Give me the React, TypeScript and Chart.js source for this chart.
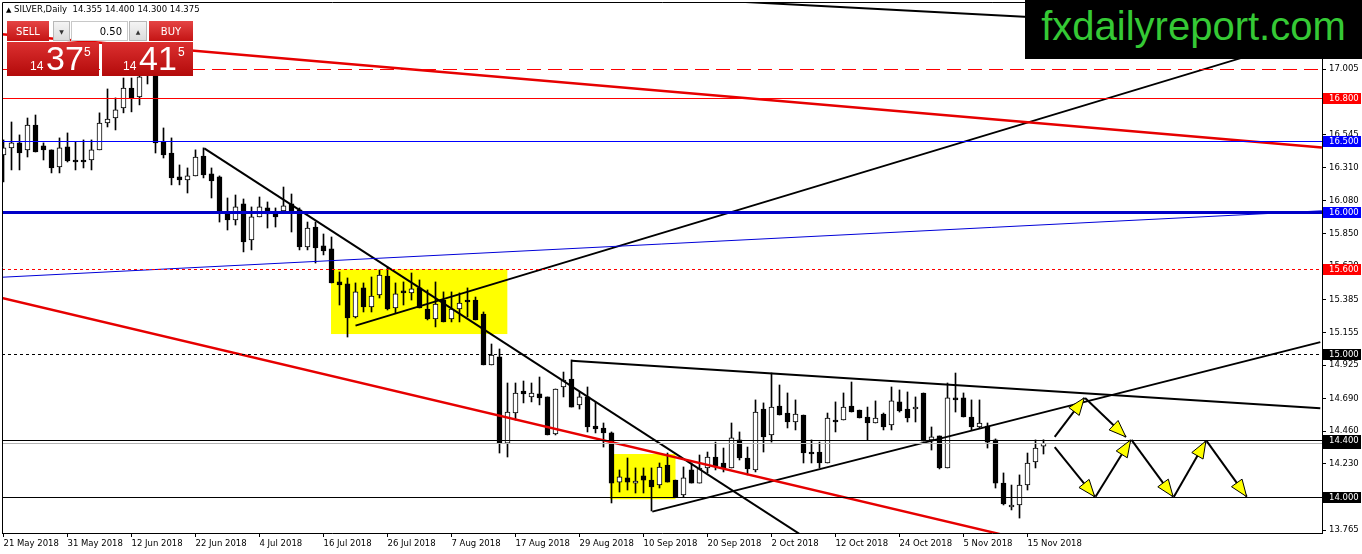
import React, { useEffect, useRef } from "react";
import { Chart, registerables } from "chart.js";
Chart.register(...registerables);

const FONT = '"DejaVu Sans", Tahoma, sans-serif';

// ---- axes ----
const dateLabels = ["21 May 2018", "31 May 2018", "12 Jun 2018", "22 Jun 2018", "4 Jul 2018", "16 Jul 2018", "26 Jul 2018", "7 Aug 2018", "17 Aug 2018", "29 Aug 2018", "10 Sep 2018", "20 Sep 2018", "2 Oct 2018", "12 Oct 2018", "24 Oct 2018", "5 Nov 2018", "15 Nov 2018"];
const dateLabelBars = [0, 8, 16, 24, 32, 40, 48, 56, 64, 72, 80, 88, 96, 104, 112, 120, 128];
const priceTicks = [13.765, 14.0, 14.23, 14.46, 14.69, 14.925, 15.155, 15.385, 15.62, 15.85, 16.08, 16.31, 16.545, 16.775, 17.005];
const barRange = [-0.1875, 164.8125];
const priceRange = [13.745, 17.476];

// ---- daily candles SILVER ----
const opens = [16.401, 16.451, 16.486, 16.437, 16.612, 16.465, 16.437, 16.317, 16.458, 16.366, 16.359, 16.366, 16.437, 16.626, 16.661, 16.732, 16.872, 16.809, 16.964, 16.985,
  16.493, 16.415, 16.247, 16.226, 16.254, 16.394, 16.268, 16.247, 16.001, 15.945, 16.057, 15.804, 15.966, 16.029, 15.994, 16.008, 16.057, 16.015, 15.755, 15.895,
  15.762, 15.741, 15.509, 15.495, 15.263, 15.467, 15.333, 15.418, 15.551, 15.326, 15.446, 15.432, 15.467, 15.319, 15.249, 15.382, 15.249, 15.319, 15.375, 15.382,
  15.284, 14.926, 14.982, 14.377, 14.588, 14.743, 14.701, 14.722, 14.701, 14.441, 14.771, 14.827, 14.645, 14.701, 14.497, 14.483, 14.448, 14.103, 14.132, 14.096,
  14.146, 14.117, 14.082, 14.223, 14.117, 14.012, 14.188, 14.096, 14.202, 14.279, 14.237, 14.202, 14.399, 14.272, 14.188, 14.616, 14.434, 14.637, 14.588, 14.525,
  14.574, 14.314, 14.314, 14.237, 14.539, 14.539, 14.637, 14.609, 14.560, 14.518, 14.581, 14.504, 14.666, 14.616, 14.616, 14.729, 14.399, 14.427, 14.202, 14.694,
  14.694, 14.560, 14.490, 14.497, 14.399, 14.096, 13.928, 13.942, 14.082, 14.244, 14.355];
const highs = [16.507, 16.633, 16.542, 16.661, 16.682, 16.486, 16.437, 16.521, 16.556, 16.493, 16.507, 16.507, 16.697, 16.865, 16.802, 16.942, 16.942, 16.985, 17.069, 17.013,
  16.591, 16.521, 16.331, 16.310, 16.437, 16.451, 16.310, 16.254, 16.099, 16.120, 16.092, 16.036, 16.106, 16.071, 16.029, 16.176, 16.127, 16.029, 15.930, 15.930,
  15.846, 15.825, 15.579, 15.537, 15.502, 15.502, 15.544, 15.593, 15.614, 15.502, 15.509, 15.572, 15.523, 15.453, 15.509, 15.439, 15.439, 15.432, 15.467, 15.403,
  15.298, 15.073, 15.038, 14.799, 14.799, 14.813, 14.799, 14.841, 14.701, 14.757, 14.876, 14.961, 14.736, 14.771, 14.666, 14.518, 14.455, 14.188, 14.272, 14.202,
  14.202, 14.202, 14.237, 14.307, 14.117, 14.209, 14.237, 14.293, 14.314, 14.384, 14.342, 14.518, 14.455, 14.349, 14.680, 14.659, 14.869, 14.785, 14.729, 14.680,
  14.574, 14.399, 14.384, 14.588, 14.666, 14.729, 14.806, 14.609, 14.630, 14.673, 14.588, 14.771, 14.750, 14.736, 14.701, 14.729, 14.490, 14.427, 14.799, 14.869,
  14.729, 14.680, 14.680, 14.518, 14.406, 14.167, 14.082, 14.153, 14.307, 14.399, 14.400];
const lows = [16.212, 16.296, 16.296, 16.387, 16.422, 16.366, 16.275, 16.275, 16.352, 16.296, 16.310, 16.296, 16.437, 16.598, 16.577, 16.697, 16.704, 16.753, 16.900, 16.415,
  16.380, 16.191, 16.191, 16.134, 16.254, 16.240, 16.099, 15.930, 15.874, 15.909, 15.720, 15.734, 15.966, 15.888, 15.895, 15.994, 15.860, 15.734, 15.734, 15.642,
  15.699, 15.502, 15.347, 15.122, 15.256, 15.298, 15.298, 15.396, 15.312, 15.291, 15.347, 15.382, 15.326, 15.242, 15.193, 15.228, 15.228, 15.228, 15.263, 15.242,
  14.926, 14.926, 14.307, 14.279, 14.539, 14.659, 14.666, 14.645, 14.434, 14.434, 14.701, 14.630, 14.616, 14.455, 14.448, 14.349, 13.956, 14.033, 14.047, 14.026,
  14.026, 13.900, 14.061, 14.103, 13.998, 13.998, 14.096, 14.096, 14.167, 14.188, 14.174, 14.202, 14.258, 14.153, 14.174, 14.314, 14.384, 14.574, 14.483, 14.469,
  14.237, 14.237, 14.202, 14.237, 14.455, 14.539, 14.595, 14.553, 14.399, 14.518, 14.469, 14.469, 14.595, 14.525, 14.525, 14.391, 14.328, 14.195, 14.202, 14.595,
  14.560, 14.469, 14.483, 14.342, 14.061, 13.942, 13.907, 13.850, 14.047, 14.202, 14.300];
const closes = [16.451, 16.486, 16.415, 16.612, 16.422, 16.437, 16.310, 16.451, 16.359, 16.352, 16.352, 16.437, 16.626, 16.654, 16.718, 16.872, 16.802, 16.950, 17.034, 16.486,
  16.401, 16.240, 16.226, 16.254, 16.387, 16.261, 16.219, 15.994, 15.945, 16.036, 15.790, 15.966, 16.036, 15.987, 15.966, 16.043, 16.001, 15.755, 15.888, 15.748,
  15.727, 15.502, 15.488, 15.256, 15.439, 15.333, 15.410, 15.558, 15.319, 15.425, 15.432, 15.460, 15.326, 15.249, 15.354, 15.228, 15.319, 15.361, 15.368, 15.242,
  14.926, 14.996, 14.377, 14.595, 14.729, 14.722, 14.729, 14.694, 14.434, 14.757, 14.820, 14.630, 14.701, 14.490, 14.476, 14.448, 14.096, 14.139, 14.103, 14.110,
  14.117, 14.068, 14.209, 14.103, 13.998, 14.132, 14.096, 14.202, 14.279, 14.216, 14.202, 14.413, 14.272, 14.195, 14.595, 14.420, 14.630, 14.574, 14.525, 14.581,
  14.307, 14.300, 14.237, 14.553, 14.525, 14.630, 14.595, 14.553, 14.518, 14.553, 14.490, 14.673, 14.602, 14.553, 14.630, 14.391, 14.420, 14.202, 14.694, 14.680,
  14.560, 14.490, 14.518, 14.384, 14.096, 13.949, 13.942, 14.082, 14.237, 14.342, 14.375];

// ---- horizontal levels ----
const levelPrices = [17.005, 16.8, 16.5, 16.0, 15.6, 15.0, 14.375, 14.4, 14.0];
const levelColors = ["#ff0000", "#ff0000", "#0000ff", "#0000c8", "#ff0000", "#000000", "#b4b4b4", "#000000", "#000000"];
const levelWidths = [1, 1, 1, 3, 1, 1, 1, 1, 1];
const levelDashes = [[14, 7], [], [], [], [3, 3], [3, 3], [], [], []];
const levelTagShown = [false, true, true, true, true, true, true, true, true];
const levelTagColors = ["", "#ff0000", "#0000ff", "#0000ff", "#ff0000", "#000000", "#000000", "#000000", "#000000"];

// ---- trend lines ----
const trendFromBar = [85, -0.2, -0.2, -0.2, 25.1, 44.0, 71.0, 81.1];
const trendFromPrice = [17.499, 17.25, 15.396, 15.542, 16.448, 15.202, 14.956, 13.895];
const trendToBar = [164.8, 164.8, 124.6, 164.8, 100.2, 164.8, 164.6, 164.6];
const trendToPrice = [17.262, 16.454, 13.737, 16.009, 13.713, 17.254, 14.622, 15.086];
const trendColors = ["#000000", "#e60000", "#e60000", "#0000d8", "#000000", "#000000", "#000000", "#000000"];
const trendWidths = [2, 2.5, 2.5, 1, 2, 2, 2, 2];

// ---- yellow zones ----
const zoneFromBar = [40.94, 75.8];
const zoneToBar = [62.98, 84.0];
const zoneHighPrice = [15.598, 14.3];
const zoneLowPrice = [15.143, 13.982];

// ---- projected arrows ----
const arrowFromBar = [131.4, 135.2, 131.4, 136.5, 141.0, 146.3, 150.4];
const arrowFromPrice = [14.42, 14.694, 14.349, 14.0, 14.399, 14.0, 14.391];
const arrowToBar = [135.1, 140.3, 136.4, 140.9, 146.2, 150.3, 155.4];
const arrowToPrice = [14.694, 14.42, 14.0, 14.399, 14.0, 14.391, 14.0];

const last = opens.length - 1;

export default function App() {
  const ref = useRef<HTMLCanvasElement>(null);

  useEffect(() => {
    const idx = opens.map((_, i) => i);

    const overlayPlugin = {
      id: "overlays",
      beforeDatasetsDraw(chart: any) {
        const { ctx, chartArea, scales } = chart;
        const x = scales.x, y = scales.y;
        ctx.save();
        ctx.beginPath();
        ctx.rect(chartArea.left, chartArea.top, chartArea.right - chartArea.left, chartArea.bottom - chartArea.top);
        ctx.clip();
        ctx.fillStyle = "#ffff00";
        zoneFromBar.forEach((b, k) => {
          const x1 = x.getPixelForValue(b), x2 = x.getPixelForValue(zoneToBar[k]);
          const y1 = y.getPixelForValue(zoneHighPrice[k]), y2 = y.getPixelForValue(zoneLowPrice[k]);
          ctx.fillRect(x1, y1, x2 - x1, y2 - y1);
        });
        ctx.restore();
      },
      afterDatasetsDraw(chart: any) {
        const { ctx, chartArea, scales } = chart;
        const x = scales.x, y = scales.y;
        ctx.save();
        ctx.beginPath();
        ctx.rect(chartArea.left, chartArea.top, chartArea.right - chartArea.left, chartArea.bottom - chartArea.top);
        ctx.clip();
        levelPrices.forEach((p, k) => {
          const py = Math.round(y.getPixelForValue(p)) + 0.5;
          ctx.strokeStyle = levelColors[k];
          ctx.lineWidth = levelWidths[k];
          ctx.setLineDash(levelDashes[k]);
          ctx.beginPath();
          ctx.moveTo(chartArea.left, py);
          ctx.lineTo(chartArea.right, py);
          ctx.stroke();
        });
        ctx.setLineDash([]);
        arrowFromBar.forEach((b, k) => {
          const x1 = x.getPixelForValue(b), y1 = y.getPixelForValue(arrowFromPrice[k]);
          const x2 = x.getPixelForValue(arrowToBar[k]), y2 = y.getPixelForValue(arrowToPrice[k]);
          ctx.strokeStyle = "#000";
          ctx.lineWidth = 2;
          ctx.beginPath();
          ctx.moveTo(x1, y1);
          ctx.lineTo(x2, y2);
          ctx.stroke();
          const ang = Math.atan2(y2 - y1, x2 - x1);
          const L = 17, W = 6.5;
          const bx = x2 - L * Math.cos(ang), by = y2 - L * Math.sin(ang);
          ctx.beginPath();
          ctx.moveTo(x2, y2);
          ctx.lineTo(bx + W * Math.sin(ang), by - W * Math.cos(ang));
          ctx.lineTo(bx - W * Math.sin(ang), by + W * Math.cos(ang));
          ctx.closePath();
          ctx.fillStyle = "#ffff00";
          ctx.fill();
          ctx.lineWidth = 1;
          ctx.stroke();
        });
        ctx.restore();
        ctx.save();
        ctx.strokeStyle = "#000";
        ctx.lineWidth = 1;
        ctx.beginPath();
        ctx.moveTo(chartArea.left + 0.5, chartArea.bottom);
        ctx.lineTo(chartArea.left + 0.5, chartArea.top + 0.5);
        ctx.lineTo(chartArea.right, chartArea.top + 0.5);
        ctx.stroke();
        ctx.restore();
      },
      afterDraw(chart: any) {
        const { ctx, chartArea, scales } = chart;
        const y = scales.y;
        ctx.save();
        ctx.font = `8.5px ${FONT}`;
        ctx.textBaseline = "middle";
        ctx.textAlign = "left";
        levelPrices.forEach((p, k) => {
          if (!levelTagShown[k]) return;
          const py = Math.round(y.getPixelForValue(p));
          ctx.fillStyle = levelTagColors[k];
          ctx.fillRect(chartArea.right + 1, py - 5, 38, 11);
          ctx.fillStyle = "#ffffff";
          ctx.fillText(p.toFixed(3), chartArea.right + 7, py + 0.5);
        });
        ctx.restore();
      },
    };

    const trendDatasets = trendFromBar.map((b, k) => ({
      type: "line" as const,
      label: "trend" + k,
      data: [{ x: b, y: trendFromPrice[k] }, { x: trendToBar[k], y: trendToPrice[k] }],
      borderColor: trendColors[k],
      borderWidth: trendWidths[k],
      pointRadius: 0,
      fill: false,
      tension: 0,
      order: 1,
    }));

    const chart = new Chart(ref.current as HTMLCanvasElement, {
      type: "bar",
      data: {
        datasets: [
          ...trendDatasets,
          {
            type: "bar",
            label: "wick",
            data: idx.map((i) => ({ x: i, y: [lows[i], highs[i]] })),
            backgroundColor: "#000",
            borderWidth: 0,
            barThickness: 1,
            grouped: false,
            order: 6,
          } as any,
          {
            type: "bar",
            label: "body",
            data: idx.map((i) => ({ x: i, y: [opens[i], closes[i]] })),
            backgroundColor: idx.map((i) => (closes[i] >= opens[i] ? "#ffffff" : "#000000")),
            borderColor: "#000",
            borderWidth: 1,
            borderSkipped: false,
            barThickness: 5,
            minBarLength: 2,
            grouped: false,
            order: 5,
          } as any,
        ],
      },
      options: {
        responsive: false,
        animation: false,
        events: [],
        layout: { padding: { left: 2, top: 2, right: 0, bottom: 0 } },
        plugins: { legend: { display: false }, tooltip: { enabled: false }, title: { display: false } },
        scales: {
          x: {
            type: "linear",
            position: "bottom",
            min: barRange[0],
            max: barRange[1],
            offset: false,
            afterBuildTicks: (s: any) => {
              s.ticks = dateLabelBars.map((v) => ({ value: v }));
            },
            afterFit: (s: any) => {
              s.height = 21;
              s.paddingLeft = 0;
              s.paddingRight = 0;
            },
            ticks: {
              autoSkip: false,
              maxRotation: 0,
              minRotation: 0,
              align: "start",
              padding: 2,
              color: "#000",
              font: { family: FONT, size: 8.5 },
              callback: (v: any) => {
                const k = dateLabelBars.indexOf(Number(v));
                return k >= 0 ? dateLabels[k] : "";
              },
            },
            grid: { drawOnChartArea: false, drawTicks: true, tickLength: 4, color: "#000", offset: false },
            border: { display: true, color: "#000", width: 1 },
          },
          y: {
            type: "linear",
            position: "right",
            min: priceRange[0],
            max: priceRange[1],
            beginAtZero: false,
            afterBuildTicks: (s: any) => {
              s.ticks = priceTicks.map((v) => ({ value: v }));
            },
            afterFit: (s: any) => {
              s.width = 40;
              s.paddingTop = 0;
              s.paddingBottom = 0;
            },
            ticks: {
              padding: 3,
              color: "#000",
              font: { family: FONT, size: 8.5 },
              callback: (v: any) => Number(v).toFixed(3),
            },
            grid: { drawOnChartArea: false, drawTicks: true, tickLength: 4, color: "#000" },
            border: { display: true, color: "#000", width: 1 },
          },
        },
      } as any,
      plugins: [overlayPlugin],
    });
    return () => chart.destroy();
  }, []);

  const redTop = "linear-gradient(#e54444, #c41414)";
  const redPrice = "linear-gradient(#dc3030, #b30a0a)";
  const gray = "linear-gradient(#f4f4f4, #dcdcdc)";
  const btnText: React.CSSProperties = {
    position: "absolute", display: "flex", alignItems: "center", justifyContent: "center",
    fontFamily: FONT, fontSize: 10, color: "#fff", height: 20, top: 21,
  };
  const big: React.CSSProperties = { position: "absolute", top: 0, fontFamily: '"Liberation Sans", Arial, sans-serif', fontSize: 34, lineHeight: "33px", color: "#fff" };
  const small: React.CSSProperties = { position: "absolute", fontFamily: '"Liberation Sans", Arial, sans-serif', fontSize: 12, lineHeight: "12px", color: "#fff" };

  return (
    <div style={{ position: "fixed", left: 0, top: 0, width: 1362, height: 554, background: "#fff", overflow: "hidden" }}>
      <canvas ref={ref} width={1362} height={554} style={{ display: "block", width: 1362, height: 554 }} />
      <div style={{ position: "absolute", left: 6, top: 4, fontFamily: FONT, fontSize: 8.5, color: "#000", whiteSpace: "pre" }}>
        <span style={{ fontSize: 7 }}>▲</span>
        {` SILVER,Daily  ${opens[last].toFixed(3)} ${highs[last].toFixed(3)} ${lows[last].toFixed(3)} ${closes[last].toFixed(3)}`}
      </div>
      <div style={{ ...btnText, left: 7, width: 42, background: redTop }}>SELL</div>
      <div style={{ ...btnText, left: 53, width: 17, background: gray, border: "1px solid #b8b8b8", boxSizing: "border-box", color: "#333", fontSize: 6 }}>▼</div>
      <div style={{ ...btnText, left: 71, width: 57, background: "#fff", border: "1px solid #c8c8c8", boxSizing: "border-box", color: "#000", justifyContent: "flex-end", paddingRight: 5 }}>0.50</div>
      <div style={{ ...btnText, left: 129, width: 18, background: gray, border: "1px solid #b8b8b8", boxSizing: "border-box", color: "#333", fontSize: 6 }}>▲</div>
      <div style={{ ...btnText, left: 149, width: 44, background: redTop }}>BUY</div>
      <div style={{ position: "absolute", left: 7, top: 42, width: 92, height: 34, background: redPrice }}>
        <span style={{ ...small, left: 23, top: 18 }}>14</span>
        <span style={{ ...big, left: 39 }}>37</span>
        <span style={{ ...small, left: 77, top: 4 }}>5</span>
      </div>
      <div style={{ position: "absolute", left: 102, top: 42, width: 91, height: 34, background: redPrice }}>
        <span style={{ ...small, left: 21, top: 18 }}>14</span>
        <span style={{ ...big, left: 37 }}>41</span>
        <span style={{ ...small, left: 76, top: 4 }}>5</span>
      </div>
      <div style={{ position: "absolute", left: 1025, top: 0, width: 337, height: 59, background: "#000", color: "#35c935", fontFamily: '"Liberation Sans", Arial, sans-serif', fontSize: 40, lineHeight: "52px", textAlign: "center" }}>
        fxdailyreport.com
      </div>
    </div>
  );
}
